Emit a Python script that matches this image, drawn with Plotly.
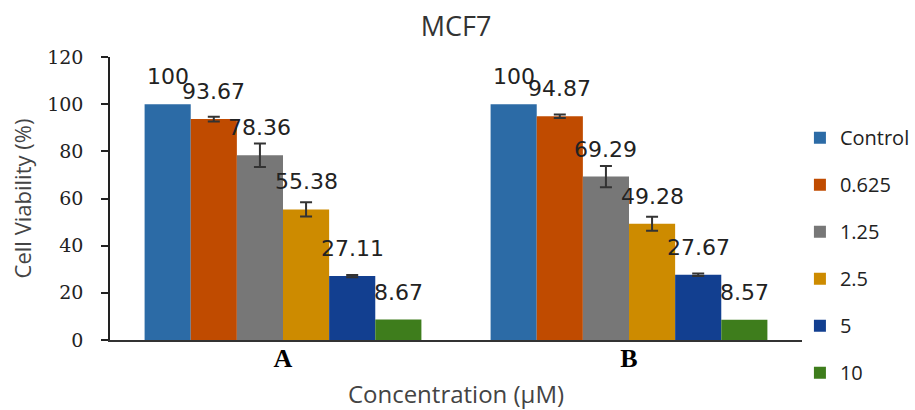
import plotly.graph_objects as go

categories = ["A", "B"]
series_names = ["Control", "0.625", "1.25", "2.5", "5", "10"]
values_A = [100, 93.67, 78.36, 55.38, 27.11, 8.67]
values_B = [100, 94.87, 69.29, 49.28, 27.67, 8.57]
errors_A = [0, 1.0, 5.0, 3.0, 0.5, 0]
errors_B = [0, 0.7, 4.5, 3.0, 0.5, 0]
labels_A = ["100", "93.67", "78.36", "55.38", "27.11", "8.67"]
labels_B = ["100", "94.87", "69.29", "49.28", "27.67", "8.57"]
colors = ["#2C6BA6", "#C04B00", "#777777", "#CD8B00", "#123F90", "#3E7D1C"]
y_ticks = [0, 20, 40, 60, 80, 100, 120]

x_idx = list(range(len(categories)))
n = len(series_names)
group_width = 0.8

fig = go.Figure()
annotations = []
for i, name in enumerate(series_names):
    vals = [values_A[i], values_B[i]]
    errs = [errors_A[i], errors_B[i]]
    labs = [labels_A[i], labels_B[i]]
    has_err = any(e > 0 for e in errs)
    fig.add_trace(go.Bar(
        x=x_idx, y=vals, name=name, legendgroup=name,
        marker=dict(color=colors[i], line=dict(width=0)),
        error_y=dict(type="data", array=errs, visible=has_err,
                     color="#333333", thickness=2, width=6),
    ))
    offset = -group_width / 2 + group_width * (i + 0.5) / n
    for c, v, lab in zip(x_idx, vals, labs):
        annotations.append(dict(
            x=c + offset, y=v, xref="x", yref="y", text=lab,
            showarrow=False, yanchor="bottom", xanchor="center", yshift=13,
            font=dict(family="DejaVu Sans", size=22, color="#222222"),
        ))

fig.update_layout(
    width=915, height=410,
    margin=dict(l=110, r=113, t=57, b=70, autoexpand=False),
    paper_bgcolor="white", plot_bgcolor="white",
    barmode="group", bargap=0.2, bargroupgap=0,
    title=dict(text="MCF7", x=0.5, xref="paper", y=1 - 27 / 410, yanchor="middle",
               font=dict(family="Open Sans", size=27, color="#333333")),
    annotations=annotations,
    showlegend=True,
    legend=dict(xref="paper", yref="paper",
                x=0.997, xanchor="left", y=0.784, yanchor="top",
                font=dict(family="Open Sans", size=20, color="#222222"),
                tracegroupgap=18, itemwidth=30, bgcolor="rgba(0,0,0,0)"),
    xaxis=dict(
        tickmode="array", tickvals=x_idx,
        ticktext=["<b>%s</b>" % c for c in categories],
        range=[-0.5, 1.5], automargin=False,
        tickfont=dict(family="Liberation Serif", size=26, color="black"),
        showline=True, linecolor="#333333", linewidth=2,
        ticks="", ticklen=0, ticklabelstandoff=-6,
        showgrid=False, zeroline=False,
        title=dict(text="Concentration (µM)", standoff=23,
                   font=dict(family="Open Sans", size=24, color="#444444")),
    ),
    yaxis=dict(
        range=[0, 120], tickvals=y_ticks, automargin=False,
        tickfont=dict(family="DejaVu Serif", size=19, color="#222222"),
        showline=True, linecolor="#222222", linewidth=1.5,
        ticks="outside", ticklen=7, tickcolor="#222222", tickwidth=1.5,
        ticklabelstandoff=14,
        showgrid=False, zeroline=False,
        title=dict(text="Cell Viability (%)", standoff=9,
                   font=dict(family="Open Sans", size=22, color="#444444")),
    ),
)

fig.write_html("out.html",
               config={"displayModeBar": False},
               post_script="document.body.style.margin='0';document.body.style.overflow='hidden';")
